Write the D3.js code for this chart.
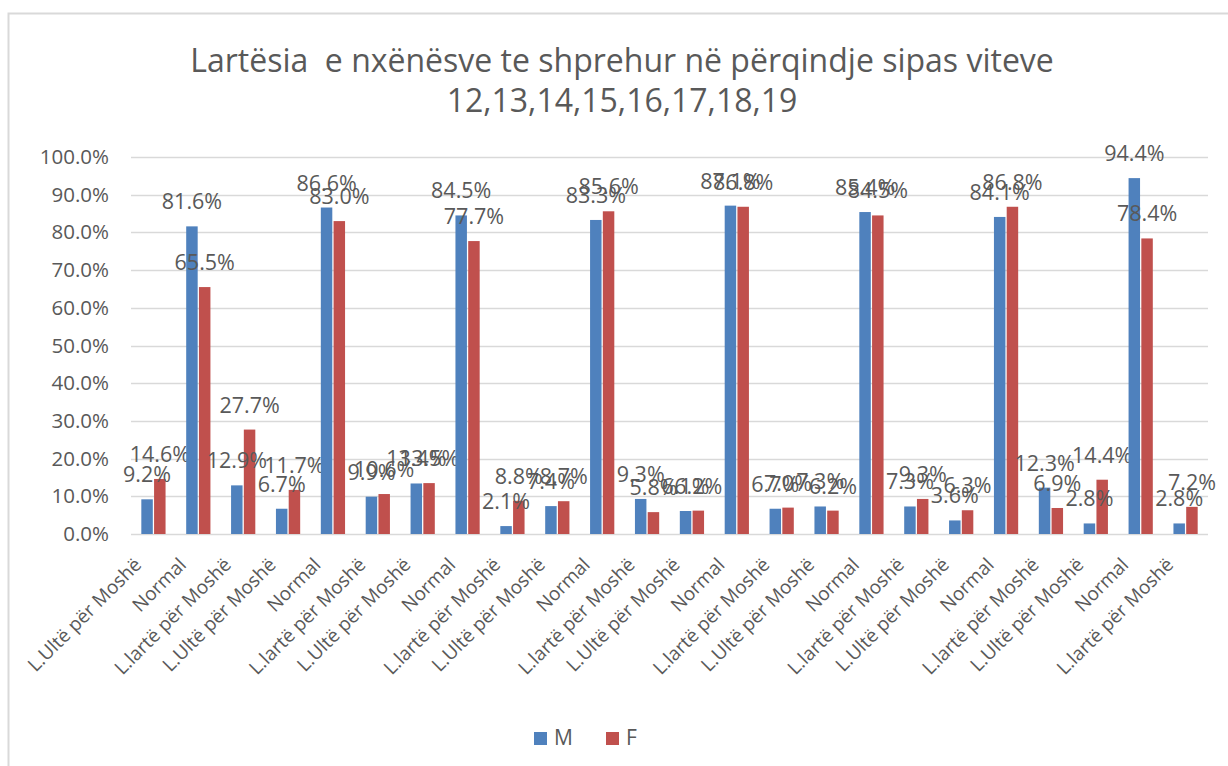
<!DOCTYPE html>
<html>
<head>
<meta charset="utf-8">
<script src="https://cdn.jsdelivr.net/npm/d3@7"></script>
<style>
  body { margin: 0; background: #fff; }
  text { font-family: 'Open Sans', 'Noto Sans', sans-serif; fill: #595959; }
</style>
</head>
<body>
<script>
'use strict';

var categories = [
    'L.Ultë për Moshë', 'Normal', 'L.lartë për Moshë',
    'L.Ultë për Moshë', 'Normal', 'L.lartë për Moshë',
    'L.Ultë për Moshë', 'Normal', 'L.lartë për Moshë',
    'L.Ultë për Moshë', 'Normal', 'L.lartë për Moshë',
    'L.Ultë për Moshë', 'Normal', 'L.lartë për Moshë',
    'L.Ultë për Moshë', 'Normal', 'L.lartë për Moshë',
    'L.Ultë për Moshë', 'Normal', 'L.lartë për Moshë',
    'L.Ultë për Moshë', 'Normal', 'L.lartë për Moshë'
];
var seriesNames = ['M', 'F'];
var valuesM = [9.2, 81.6, 12.9, 6.7, 86.6, 9.9, 13.4, 84.5, 2.1, 7.4, 83.3, 9.3,
               6.1, 87.1, 6.7, 7.3, 85.4, 7.3, 3.6, 84.1, 12.3, 2.8, 94.4, 2.8];
var valuesF = [14.6, 65.5, 27.7, 11.7, 83.0, 10.6, 13.5, 77.7, 8.8, 8.7, 85.6, 5.8,
               6.2, 86.8, 7.0, 6.2, 84.5, 9.3, 6.3, 86.8, 6.9, 14.4, 78.4, 7.2];
var yTicks = [0, 0.1, 0.2, 0.3, 0.4, 0.5, 0.6, 0.7, 0.8, 0.9, 1.0];
var titleLines = ['Lartësia  e nxënësve te shprehur në përqindje sipas viteve',
                  '12,13,14,15,16,17,18,19'];
var colors = { M: '#4F81BD', F: '#C0504D' };

var width = 1228, height = 766;
var plot = { left: 131, right: 1208, top: 157, bottom: 534 };

var svg = d3.select('body').append('svg')
    .attr('width', width)
    .attr('height', height);

// chart frame
svg.append('rect')
    .attr('x', 8.5).attr('y', 13.5)
    .attr('width', 1240).attr('height', 780)
    .attr('fill', 'none')
    .attr('stroke', '#d9d9d9')
    .attr('stroke-width', 2);

// title
svg.append('g').selectAll('text')
    .data(titleLines)
    .enter().append('text')
    .attr('x', 622)
    .attr('y', function(d, i) { return 72 + i * 40; })
    .attr('text-anchor', 'middle')
    .attr('font-size', 32)
    .style('white-space', 'pre')
    .text(function(d) { return d; });

var x0 = d3.scaleBand()
    .domain(d3.range(categories.length))
    .range([plot.left, plot.right])
    .paddingInner(0.46)
    .paddingOuter(0.23);

var x1 = d3.scaleBand()
    .domain(seriesNames)
    .range([0, x0.bandwidth()])
    .paddingInner(0.1);

var y = d3.scaleLinear()
    .domain([0, 1])
    .range([plot.bottom, plot.top]);

// gridlines
svg.append('g')
    .attr('class', 'grid')
    .selectAll('line')
    .data(yTicks)
    .enter().append('line')
    .attr('x1', plot.left).attr('x2', plot.right)
    .attr('y1', function(d) { return Math.round(y(d)) + 0.5; })
    .attr('y2', function(d) { return Math.round(y(d)) + 0.5; })
    .attr('stroke', '#d9d9d9')
    .attr('stroke-width', 1.3);

// y axis labels
var yAxis = d3.axisLeft(y)
    .tickValues(yTicks)
    .tickFormat(d3.format('.1%'))
    .tickSize(0)
    .tickPadding(22);

var yG = svg.append('g')
    .attr('transform', 'translate(' + plot.left + ',0)')
    .call(yAxis);
yG.select('.domain').remove();
yG.selectAll('text')
    .attr('font-size', 20.5)
    .attr('font-family', null)
    .attr('fill', '#595959');

// data rows
var rows = categories.map(function(c, i) {
    return { index: i, name: c, M: valuesM[i], F: valuesF[i] };
});

var group = svg.append('g').selectAll('g')
    .data(rows)
    .enter().append('g')
    .attr('transform', function(d) { return 'translate(' + x0(d.index) + ',0)'; });

var bars = group.selectAll('rect')
    .data(function(d) {
        return seriesNames.map(function(s) { return { key: s, value: d[s] }; });
    })
    .enter();

bars.append('rect')
    .attr('x', function(d) { return x1(d.key); })
    .attr('y', function(d) { return y(d.value / 100); })
    .attr('width', x1.bandwidth())
    .attr('height', function(d) { return y(0) - y(d.value / 100); })
    .attr('fill', function(d) { return colors[d.key]; });

bars.append('text')
    .attr('x', function(d) { return x1(d.key) + x1.bandwidth() / 2; })
    .attr('y', function(d) { return y(d.value / 100) - 17; })
    .attr('text-anchor', 'middle')
    .attr('font-size', 21.5)
    .text(function(d) { return d.value.toFixed(1) + '%'; });

// category labels
svg.append('g').selectAll('text')
    .data(rows)
    .enter().append('text')
    .attr('transform', function(d) {
        var cx = x0(d.index) + x0.bandwidth() / 2;
        return 'translate(' + (cx - 11) + ',' + (plot.bottom + 32) + ') rotate(-45)';
    })
    .attr('text-anchor', 'end')
    .attr('font-size', 19)
    .text(function(d) { return d.name; });

// legend
var legend = svg.append('g').selectAll('g')
    .data(seriesNames)
    .enter().append('g')
    .attr('transform', function(d, i) { return 'translate(' + (534 + i * 72) + ',732)'; });

legend.append('rect')
    .attr('width', 13).attr('height', 13)
    .attr('fill', function(d) { return colors[d]; });

legend.append('text')
    .attr('x', 20).attr('y', 13)
    .attr('font-size', 21)
    .text(function(d) { return d; });
</script>
</body>
</html>
